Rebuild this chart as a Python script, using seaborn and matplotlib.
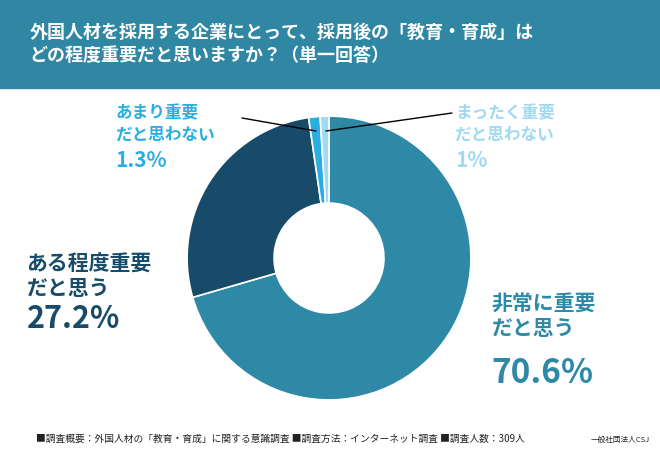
import matplotlib.pyplot as plt
import seaborn as sns

categories = ["非常に重要\nだと思う", "ある程度重要\nだと思う", "あまり重要\nだと思わない", "まったく重要\nだと思わない"]
shares = [70.6, 27.2, 1.3, 1.0]
share_labels = ["70.6%", "27.2%", "1.3%", "1%"]
colors = ["#2e89a7", "#174b69", "#2aaee2", "#9fd9f2"]

sns.set_theme(style="white")
plt.rcParams['font.family'] = ['Noto Sans CJK JP', 'DejaVu Sans']

fig = plt.figure(figsize=(6.6, 4.5), dpi=100)
fig.patch.set_facecolor("white")

# header band
fig.patches.append(plt.Rectangle((0, 1 - 88 / 450), 1, 88 / 450, transform=fig.transFigure,
                                 color="#2f87a4", zorder=0))
fig.text(0.045, 0.95, "外国人材を採用する企業にとって、採用後の「教育・育成」は\nどの程度重要だと思いますか？（単一回答）",
         color="white", fontsize=13, fontweight="bold", va="top", linespacing=1.3)

ax = fig.add_axes([0.4985 - 0.215, 0.4267 - 0.3156, 0.43, 0.6311])
ax.pie(shares, colors=colors, startangle=90, counterclock=False,
       wedgeprops=dict(width=1 - 55 / 142, edgecolor="white", linewidth=1.2))
ax.set_xlim(-1, 1)
ax.set_ylim(-1, 1)
ax.set_aspect("equal")
ax.axis("off")

# labels
fig.text(0.745, 0.255, categories[0], color=colors[0], fontsize=15, fontweight="bold", linespacing=1.2)
fig.text(0.745, 0.148, share_labels[0], color=colors[0], fontsize=24, fontweight="bold")
fig.text(0.04, 0.345, categories[1], color=colors[1], fontsize=15, fontweight="bold", linespacing=1.2)
fig.text(0.04, 0.27, share_labels[1], color=colors[1], fontsize=22, fontweight="bold")
fig.text(0.175, 0.69, categories[2], color=colors[2], fontsize=12, fontweight="bold", linespacing=1.2)
fig.text(0.175, 0.628, share_labels[2], color=colors[2], fontsize=15, fontweight="bold")
fig.text(0.69, 0.69, categories[3], color=colors[3], fontsize=12, fontweight="bold", linespacing=1.2)
fig.text(0.69, 0.628, share_labels[3], color=colors[3], fontsize=15, fontweight="bold")

# leader lines
fig.add_artist(plt.Line2D([242 / 660, 316 / 660], [1 - 118 / 450, 1 - 131 / 450], color="black", lw=1))
fig.add_artist(plt.Line2D([452 / 660, 326 / 660], [1 - 113 / 450, 1 - 131 / 450], color="black", lw=1))

fig.text(0.055, 0.018, "■調査概要：外国人材の「教育・育成」に関する意識調査 ■調査方法：インターネット調査 ■調査人数：309人",
         fontsize=7, color="#222222")
fig.text(0.895, 0.018, "一般社団法人CSJ", fontsize=5.5, color="#222222")

fig.savefig("out.png", dpi=100)
